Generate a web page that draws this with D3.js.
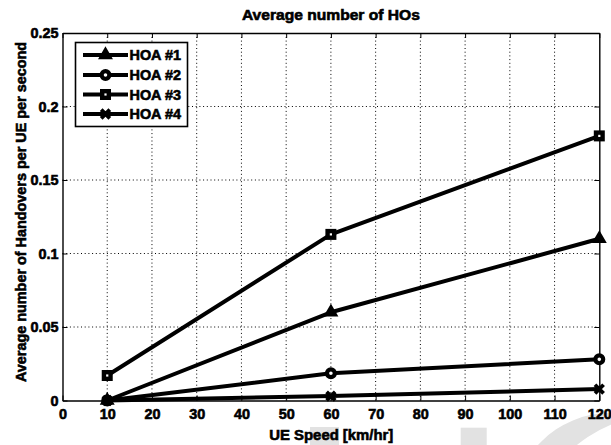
<!DOCTYPE html>
<html>
<head>
<meta charset="utf-8">
<script src="https://cdn.jsdelivr.net/npm/d3@7"></script>
<style>
  html, body { margin: 0; padding: 0; background: #fff; }
  svg { display: block; }
  text { font-family: "Liberation Sans", Arial, Helvetica, sans-serif; fill: #000; stroke: #000; stroke-width: 0.6px; }
</style>
</head>
<body>
<svg id="chart" width="611" height="445"></svg>
<script>
// UE speeds (km/hr) and average handovers per UE per second
const speeds = [10, 60, 120];
const hoa1 = [0, 0.060, 0.110];
const hoa2 = [0, 0.0185, 0.028];
const hoa3 = [0.017, 0.113, 0.180];
const hoa4 = [0, 0.003, 0.0078];
const seriesNames = ["HOA #1", "HOA #2", "HOA #3", "HOA #4"];
const markerKinds = ["triangle", "circle", "square", "cross"];
const xTicks = [0, 10, 20, 30, 40, 50, 60, 70, 80, 90, 100, 110, 120];
const yTicks = [0, 0.05, 0.1, 0.15, 0.2, 0.25];
const yTickLabels = ["0", "0.05", "0.1", "0.15", "0.2", "0.25"];

const svg = d3.select("#chart");
const plot = { left: 62.5, right: 599.3, top: 33, bottom: 400.5 };

const x = d3.scaleLinear().domain([0, 120]).range([plot.left, plot.right]);
const y = d3.scaleLinear().domain([0, 0.25]).range([plot.bottom, plot.top]);

// faint backdrop shapes along the lower edge
const back = svg.append("g").attr("fill", "#e2e2e2");
back.append("rect").attr("x", 310).attr("y", 427).attr("width", 29).attr("height", 18);
back.append("rect").attr("x", 460.7).attr("y", 427.7).attr("width", 26).attr("height", 18);
back.append("path")
  .attr("fill-rule", "evenodd")
  .attr("d", (() => {
    const p = d3.path();
    p.arc(610, 510, 97, 0, 2 * Math.PI);
    p.closePath();
    p.moveTo(660 + 130, 545);
    p.arc(660, 545, 130, 0, 2 * Math.PI);
    p.closePath();
    return p.toString();
  })());

// dotted grid
const grid = svg.append("g")
  .attr("stroke", "#000").attr("stroke-width", 1).attr("stroke-dasharray", "1,2.7");
grid.selectAll("line.vx").data(xTicks.slice(1, -1)).join("line")
  .attr("x1", d => x(d)).attr("x2", d => x(d))
  .attr("y1", plot.bottom).attr("y2", plot.top);
grid.selectAll("line.hy").data(yTicks.slice(1, -1)).join("line")
  .attr("x1", plot.left).attr("x2", plot.right)
  .attr("y1", d => y(d)).attr("y2", d => y(d));

// axes with inward ticks (bottom/left labelled, top/right mirrored)
const fontPx = 14.4;
const axB = svg.append("g").attr("transform", `translate(0,${plot.bottom})`)
  .call(d3.axisBottom(x).tickValues(xTicks).tickSizeInner(-5).tickSizeOuter(0).tickPadding(8));
const axT = svg.append("g").attr("transform", `translate(0,${plot.top})`)
  .call(d3.axisTop(x).tickValues(xTicks).tickSizeInner(-5).tickSizeOuter(0).tickFormat(""));
const axL = svg.append("g").attr("transform", `translate(${plot.left},0)`)
  .call(d3.axisLeft(y).tickValues(yTicks).tickSizeInner(-5).tickSizeOuter(0).tickPadding(4)
    .tickFormat((d, i) => yTickLabels[i]));
const axR = svg.append("g").attr("transform", `translate(${plot.right},0)`)
  .call(d3.axisRight(y).tickValues(yTicks).tickSizeInner(-5).tickSizeOuter(0).tickFormat(""));
[axB, axT, axL, axR].forEach(g => {
  g.select(".domain").attr("stroke", "#000").attr("stroke-width", 1.4);
  g.selectAll(".tick line").attr("stroke", "#000").attr("stroke-width", 1);
  g.selectAll("text")
    .attr("font-family", "'Liberation Sans', Arial, sans-serif")
    .attr("font-size", fontPx).attr("font-weight", "bold").attr("fill", "#000");
});
axB.selectAll(".tick text").attr("dy", "0.71em").attr("y", 8);

// marker drawing
function drawMarker(g, kind, cx, cy) {
  if (kind === "triangle") {
    g.append("path").attr("d", d3.symbol(d3.symbolTriangle, 54)())
      .attr("transform", `translate(${cx},${cy})`)
      .attr("fill", "#000").attr("stroke", "#000").attr("stroke-width", 2.2).attr("stroke-linejoin", "miter");
  } else if (kind === "circle") {
    g.append("circle").attr("cx", cx).attr("cy", cy).attr("r", 3.9)
      .attr("fill", "#fff").attr("stroke", "#000").attr("stroke-width", 4.2);
  } else if (kind === "square") {
    g.append("rect").attr("x", cx - 3.3).attr("y", cy - 3.3).attr("width", 6.6).attr("height", 6.6)
      .attr("fill", "#fff").attr("stroke", "#000").attr("stroke-width", 4.4);
  } else {
    const s = 4.3;
    g.append("path")
      .attr("d", `M${cx - s},${cy - s}L${cx + s},${cy + s}M${cx - s},${cy + s}L${cx + s},${cy - s}`)
      .attr("fill", "none").attr("stroke", "#000").attr("stroke-width", 3.8);
  }
}

// series lines with markers
const allSeries = [hoa1, hoa2, hoa3, hoa4];
const line = d3.line().x(d => x(d[0])).y(d => y(d[1]));
allSeries.forEach((vals, i) => {
  const pts = speeds.map((s, j) => [s, vals[j]]);
  const g = svg.append("g").attr("class", "series");
  g.append("path").datum(pts).attr("d", line)
    .attr("fill", "none").attr("stroke", "#000").attr("stroke-width", 4)
    .attr("stroke-linejoin", "round");
  pts.forEach(p => drawMarker(g, markerKinds[i], x(p[0]), y(p[1])));
});

// legend
const leg = svg.append("g");
leg.append("rect").attr("x", 75.5).attr("y", 42.5).attr("width", 112).attr("height", 84)
  .attr("fill", "#fff").attr("stroke", "#000").attr("stroke-width", 1.6);
const rowY = [55, 75, 94.5, 114];
seriesNames.forEach((name, i) => {
  const gy = rowY[i];
  leg.append("line").attr("x1", 83).attr("x2", 128).attr("y1", gy).attr("y2", gy)
    .attr("stroke", "#000").attr("stroke-width", 4);
  drawMarker(leg, markerKinds[i], 105.5, gy);
  leg.append("text").attr("x", 129.5).attr("y", gy + 5.3)
    .attr("font-size", fontPx).attr("font-weight", "bold")
    .attr("textLength", 51.5).attr("lengthAdjust", "spacingAndGlyphs").text(name);
});

// title and axis labels
svg.append("text").attr("x", (plot.left + plot.right) / 2).attr("y", 19.5)
  .attr("text-anchor", "middle").attr("font-size", 14.5).attr("font-weight", "bold")
  .attr("textLength", 178).attr("lengthAdjust", "spacingAndGlyphs")
  .text("Average number of HOs");
svg.append("text").attr("x", 331.3).attr("y", 439.5)
  .attr("text-anchor", "middle").attr("font-size", 15).attr("font-weight", "bold")
  .attr("textLength", 124).attr("lengthAdjust", "spacingAndGlyphs")
  .text("UE Speed [km/hr]");
svg.append("text")
  .attr("transform", `translate(26,${(42 + 382) / 2}) rotate(-90)`)
  .attr("text-anchor", "middle").attr("font-size", 15.5).attr("font-weight", "bold")
  .attr("textLength", 340).attr("lengthAdjust", "spacingAndGlyphs")
  .text("Average number of Handovers per UE per second");
</script>
</body>
</html>
